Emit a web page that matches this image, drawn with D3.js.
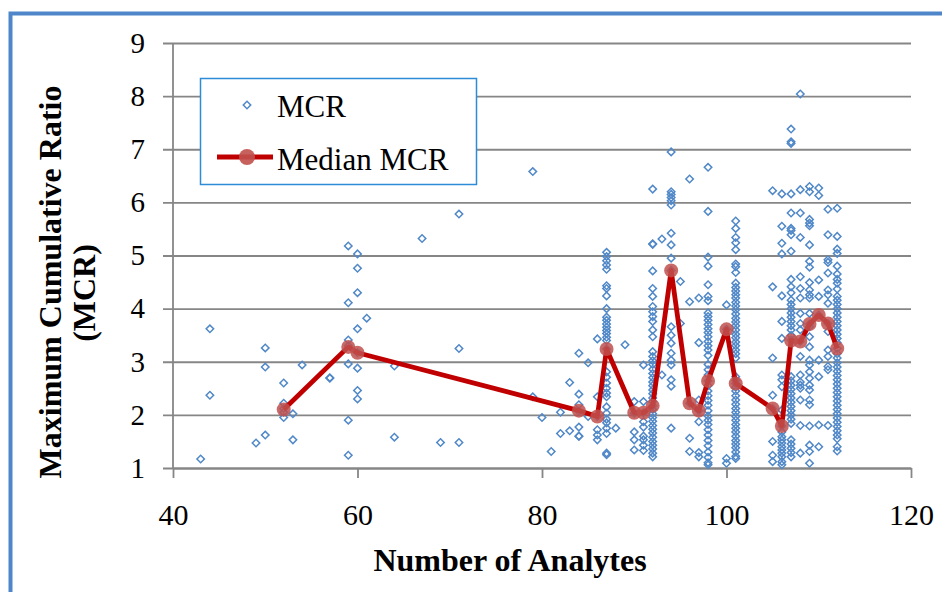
<!DOCTYPE html>
<html>
<head>
<meta charset="utf-8">
<script src="https://cdn.jsdelivr.net/npm/d3@7"></script>
<style>
  html, body { margin: 0; padding: 0; background: #fff; }
  svg { display: block; font-family: "Liberation Serif", "Times New Roman", serif; }
</style>
</head>
<body>
<div class="Chart"></div>
<script>
const xTicks = [40, 60, 80, 100, 120];
const yTicks = [1, 2, 3, 4, 5, 6, 7, 8, 9];

// median MCR per number of analytes
const medianX = [52, 59, 60, 84, 86, 87, 90, 91, 92, 94, 96, 97, 98, 100, 101, 105, 106, 107, 108, 109, 110, 111, 112];
const medianY = [2.10, 3.28, 3.17, 2.08, 1.97, 3.24, 2.04, 2.04, 2.17, 4.72, 2.22, 2.08, 2.64, 3.61, 2.59, 2.12, 1.79, 3.40, 3.38, 3.71, 3.88, 3.72, 3.25];

// individual MCR values, grouped by number of analytes
const mcrColumns = [
  [43, [1.17]],
  [44, [3.62, 2.37]],
  [49, [1.47]],
  [50, [3.26, 2.90, 1.62]],
  [52, [2.60, 2.22, 2.12, 2.05, 1.95]],
  [53, [2.02, 1.53]],
  [54, [2.94]],
  [57, [2.69, 2.70]],
  [59, [5.18, 4.11, 3.41, 3.30, 2.96, 1.90, 1.24]],
  [60, [5.03, 4.76, 4.30, 3.62, 3.17, 2.88, 2.46, 2.30]],
  [61, [3.82]],
  [64, [2.92, 1.58]],
  [67, [5.32]],
  [69, [1.48]],
  [71, [5.78, 3.25, 1.48]],
  [79, [6.58, 2.34]],
  [80, [1.95]],
  [81, [1.31]],
  [82, [2.05, 1.65]],
  [83, [2.61, 1.70]],
  [84, [3.16, 2.39, 2.19, 2.07, 1.77, 1.60, 1.60]],
  [85, [2.98, 1.97]],
  [86, [3.43, 2.34, 1.97, 1.72, 1.62, 1.53]],
  [87, [5.06, 4.98, 4.90, 4.82, 4.74, 4.43, 4.38, 4.24, 4.00, 3.84, 3.78, 3.71, 3.65, 3.59, 3.53, 3.46, 3.40, 3.24, 2.81, 2.71, 2.60, 2.50, 2.41, 2.34, 2.15, 2.03, 1.92, 1.85, 1.75, 1.65, 1.28, 1.25]],
  [88, [1.75]],
  [89, [3.32]],
  [90, [2.25, 2.03, 1.68, 1.53, 1.34]],
  [91, [2.94, 2.25, 2.04, 1.87, 1.77, 1.60, 1.53, 1.43, 1.33]],
  [92, [6.25, 5.22, 5.21, 4.71, 4.38, 4.23, 4.04, 3.94, 3.85, 3.76, 3.60, 3.47, 3.19, 3.10, 3.02, 2.95, 2.86, 2.78, 2.70, 2.62, 2.55, 2.47, 2.40, 2.32, 2.25, 2.17, 2.10, 2.02, 1.95, 1.88, 1.80, 1.73, 1.66, 1.58, 1.50, 1.43, 1.36, 1.28, 1.21]],
  [93, [5.31, 2.75]],
  [94, [6.95, 6.20, 6.15, 6.09, 6.03, 5.95, 5.42, 5.20, 4.95, 4.72, 3.66, 3.50, 3.35, 3.16, 3.03, 2.94, 2.66, 2.54, 1.75]],
  [95, [4.51, 3.72]],
  [96, [6.44, 4.13, 2.22, 1.56, 1.31]],
  [97, [4.20, 3.36, 2.28, 2.08, 1.87, 1.29, 1.21]],
  [98, [6.66, 5.83, 4.97, 4.80, 4.45, 4.23, 4.15, 3.92, 3.85, 3.78, 3.70, 3.62, 3.55, 3.47, 3.38, 3.30, 3.22, 3.12, 2.95, 2.85, 2.75, 2.64, 2.55, 2.45, 2.36, 2.27, 2.18, 2.08, 1.98, 1.90, 1.82, 1.72, 1.62, 1.52, 1.42, 1.30, 1.20, 1.10, 1.06]],
  [100, [4.07, 3.61, 1.18, 1.09]],
  [101, [5.65, 5.51, 5.34, 5.24, 5.11, 4.84, 4.79, 4.68, 4.48, 4.40, 4.33, 4.26, 4.20, 4.12, 4.05, 3.98, 3.90, 3.82, 3.75, 3.68, 3.60, 3.52, 3.45, 3.37, 3.30, 3.22, 3.15, 3.07, 2.72, 2.65, 2.59, 2.52, 2.45, 2.36, 2.28, 2.20, 2.12, 2.05, 1.97, 1.90, 1.82, 1.75, 1.68, 1.60, 1.52, 1.45, 1.38, 1.30, 1.22, 1.18]],
  [105, [6.22, 4.41, 3.07, 2.37, 2.12, 1.50, 1.24, 1.12]],
  [106, [6.16, 5.55, 5.23, 5.03, 4.24, 3.76, 3.44, 2.75, 2.66, 2.53, 2.09, 1.79, 1.68, 1.59, 1.53, 1.47, 1.40, 1.34, 1.28, 1.21, 1.12, 1.06]],
  [107, [7.38, 7.14, 7.11, 6.16, 5.80, 5.51, 5.47, 5.39, 5.08, 4.55, 4.41, 4.30, 4.16, 4.08, 4.00, 3.92, 3.84, 3.76, 3.68, 3.60, 3.50, 3.41, 2.72, 2.64, 2.56, 2.48, 2.40, 2.32, 2.24, 2.16, 2.08, 2.00, 1.92, 1.84, 1.53, 1.45, 1.37, 1.29, 1.21]],
  [108, [8.04, 6.24, 5.80, 5.34, 4.60, 4.38, 4.20, 3.91, 3.72, 3.60, 3.38, 3.10, 2.75, 2.62, 2.56, 2.50, 2.28, 1.80, 1.28]],
  [109, [6.30, 6.20, 5.68, 5.61, 5.56, 5.20, 4.89, 4.78, 4.49, 4.35, 4.26, 4.20, 3.91, 3.71, 3.66, 3.47, 3.28, 3.03, 2.94, 2.81, 2.69, 2.56, 2.47, 2.28, 2.19, 1.79, 1.43, 1.31, 1.09]],
  [110, [6.27, 6.13, 4.54, 4.23, 3.88, 3.03, 2.72, 1.81, 1.40]],
  [111, [5.87, 5.39, 4.92, 4.87, 4.67, 4.35, 4.26, 4.10, 3.72, 3.57, 3.22, 3.10, 2.91, 2.85, 1.80]],
  [112, [5.89, 5.36, 5.12, 5.04, 4.80, 4.65, 4.55, 4.48, 4.37, 4.23, 4.16, 4.08, 4.00, 3.92, 3.84, 3.76, 3.68, 3.60, 3.52, 3.44, 3.36, 3.25, 3.15, 3.07, 2.98, 2.90, 2.82, 2.74, 2.66, 2.58, 2.50, 2.42, 2.34, 2.26, 2.18, 2.10, 2.02, 1.94, 1.86, 1.78, 1.70, 1.62, 1.55, 1.40, 1.32]]
];

const width = 942, height = 592;
const gridColor = '#868686', pointColor = '#5088C8';

const svg = d3.select('.Chart').append('svg')
  .attr('width', width)
  .attr('height', height)
  .attr('viewBox', `0 0 ${width} ${height}`);

// outer frame (only left and top edges show in the crop)
svg.append('rect')
  .attr('x', 10.5).attr('y', 13.5)
  .attr('width', width + 20).attr('height', height + 20)
  .attr('fill', '#fff')
  .attr('stroke', '#4F86C9')
  .attr('stroke-width', 4);

const x = d3.scaleLinear().domain([40, 120]).range([173, 911]);
const y = d3.scaleLinear().domain([1, 9]).range([468, 43]);

// horizontal gridlines + y labels
const yAxis = svg.append('g')
  .attr('transform', `translate(${x(120)},0)`)
  .call(d3.axisLeft(y).tickValues(yTicks).tickSize(x(120) - 163).tickPadding(18).tickFormat(d3.format('d')));
yAxis.select('.domain').remove();
yAxis.selectAll('line').attr('stroke', gridColor).attr('stroke-width', 1.8);
yAxis.selectAll('text')
  .attr('fill', '#000')
  .style('font-size', '29px')
  .style('font-family', '"Liberation Serif", serif');

// x axis
const xAxis = svg.append('g')
  .attr('transform', `translate(0,${y(1)})`)
  .call(d3.axisBottom(x).tickValues(xTicks).tickSize(10).tickSizeOuter(0).tickFormat(d3.format('d')));
xAxis.select('.domain').attr('stroke', gridColor).attr('stroke-width', 1.8);
xAxis.selectAll('line').attr('stroke', gridColor).attr('stroke-width', 1.8);
xAxis.selectAll('text')
  .attr('fill', '#000')
  .attr('y', 57)
  .attr('dy', 0)
  .style('font-size', '30px')
  .style('font-family', '"Liberation Serif", serif');

// vertical axis line
svg.append('line')
  .attr('x1', x(40)).attr('x2', x(40))
  .attr('y1', y(9)).attr('y2', y(1))
  .attr('stroke', gridColor)
  .attr('stroke-width', 1.8);

const diamond = d3.symbol().type(d3.symbolSquare).size(28);

// MCR scatter
const points = mcrColumns.flatMap(([n, vals]) => vals.map(v => ({ n, v })));
svg.append('g').selectAll('path')
  .data(points)
  .enter().append('path')
  .attr('d', diamond)
  .attr('transform', d => `translate(${x(d.n)},${y(d.v)}) rotate(45)`)
  .attr('fill', 'none')
  .attr('stroke', pointColor)
  .attr('stroke-width', 1.5);

// median line
const medians = medianX.map((n, i) => ({ n, v: medianY[i] }));
svg.append('path')
  .datum(medians)
  .attr('fill', 'none')
  .attr('stroke', '#C00000')
  .attr('stroke-width', 4.8)
  .attr('stroke-linejoin', 'round')
  .attr('d', d3.line().x(d => x(d.n)).y(d => y(d.v)));

svg.append('g').selectAll('circle')
  .data(medians)
  .enter().append('circle')
  .attr('cx', d => x(d.n))
  .attr('cy', d => y(d.v))
  .attr('r', 7)
  .attr('fill', '#C0504D')
  .attr('fill-opacity', 0.85);

// legend
const legend = svg.append('g');
legend.append('rect')
  .attr('x', 200.5).attr('y', 78.5)
  .attr('width', 276).attr('height', 106)
  .attr('fill', '#fff')
  .attr('stroke', '#2E8BD6')
  .attr('stroke-width', 1.5);
legend.append('path')
  .attr('d', diamond)
  .attr('transform', 'translate(247,105) rotate(45)')
  .attr('fill', 'none')
  .attr('stroke', pointColor)
  .attr('stroke-width', 1.5);
legend.append('text').text('MCR')
  .attr('x', 277).attr('y', 117)
  .style('font-size', '31px');
legend.append('line')
  .attr('x1', 217).attr('x2', 273)
  .attr('y1', 157).attr('y2', 157)
  .attr('stroke', '#C00000')
  .attr('stroke-width', 4.8);
legend.append('circle')
  .attr('cx', 247).attr('cy', 157).attr('r', 8)
  .attr('fill', '#C0504D')
  .attr('fill-opacity', 0.9);
legend.append('text').text('Median MCR')
  .attr('x', 277).attr('y', 170)
  .style('font-size', '31px');

// axis titles
svg.append('text').text('Number of Analytes')
  .attr('x', 510).attr('y', 571)
  .attr('text-anchor', 'middle')
  .style('font-size', '32px')
  .style('font-weight', 'bold');

svg.append('text').text('Maximum Cumulative Ratio')
  .attr('transform', 'translate(61,282) rotate(-90)')
  .attr('text-anchor', 'middle')
  .style('font-size', '32px')
  .style('font-weight', 'bold');
svg.append('text').text('(MCR)')
  .attr('transform', 'translate(95,293) rotate(-90)')
  .attr('text-anchor', 'middle')
  .style('font-size', '32px')
  .style('font-weight', 'bold');
</script>
</body>
</html>
